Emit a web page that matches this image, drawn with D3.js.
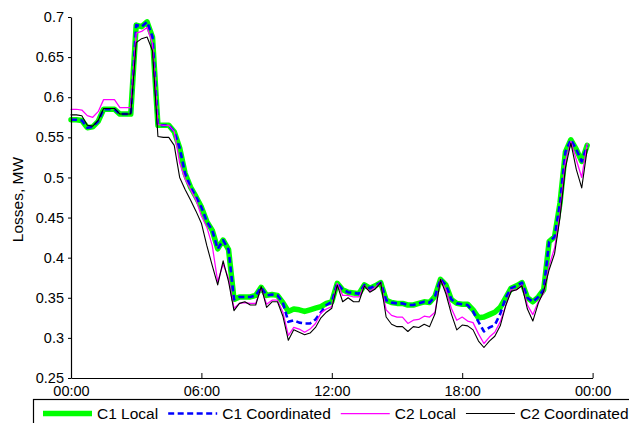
<!DOCTYPE html>
<html>
<head>
<meta charset="utf-8">
<script src="https://cdn.jsdelivr.net/npm/d3@7"></script>
<style>
  html, body { margin: 0; padding: 0; background: #fff; }
  svg { display: block; }
  text { font-family: "Liberation Sans", Arial, Helvetica, sans-serif; fill: #000; }
</style>
</head>
<body>
<svg id="chart" width="629" height="423"></svg>
<script>
// ---- data (15-minute samples, hours since midnight) ----
const stepHours = 0.25;
const seriesNames = ["C1 Local", "C1 Coordinated", "C2 Local", "C2 Coordinated"];

const c1Local = [
  0.572,0.572,0.571,0.562,0.563,0.570,0.585,0.585,0.585,0.579,0.579,0.579,
  0.690,0.688,0.694,0.675,0.565,0.565,0.565,0.557,0.537,0.505,0.488,0.476,
  0.463,0.445,0.434,0.411,0.422,0.410,0.348,0.351,0.351,0.351,0.353,0.363,
  0.353,0.354,0.353,0.344,0.333,0.336,0.335,0.333,0.335,0.337,0.339,0.343,
  0.345,0.368,0.360,0.357,0.356,0.355,0.366,0.362,0.365,0.369,0.347,0.344,
  0.343,0.343,0.341,0.341,0.343,0.345,0.344,0.352,0.373,0.366,0.348,0.343,
  0.342,0.342,0.335,0.325,0.326,0.329,0.332,0.338,0.350,0.362,0.365,0.369,
  0.350,0.345,0.351,0.360,0.420,0.426,0.468,0.532,0.547,0.535,0.520,0.540
];
const c1Coordinated = [
  0.572,0.572,0.571,0.562,0.563,0.570,0.585,0.585,0.585,0.579,0.579,0.579,
  0.690,0.688,0.694,0.675,0.565,0.565,0.565,0.557,0.537,0.505,0.488,0.476,
  0.463,0.445,0.434,0.411,0.422,0.410,0.348,0.351,0.351,0.351,0.353,0.363,
  0.353,0.354,0.353,0.344,0.320,0.322,0.319,0.318,0.318,0.323,0.332,0.341,
  0.345,0.368,0.360,0.357,0.356,0.355,0.366,0.362,0.365,0.369,0.347,0.344,
  0.343,0.343,0.341,0.341,0.343,0.345,0.344,0.352,0.373,0.366,0.348,0.343,
  0.342,0.341,0.333,0.320,0.308,0.313,0.316,0.330,0.350,0.362,0.365,0.369,
  0.350,0.345,0.351,0.360,0.420,0.426,0.468,0.532,0.547,0.535,0.520,0.540
];
const c2Local = [
  0.585,0.585,0.584,0.577,0.575,0.582,0.597,0.597,0.597,0.587,0.587,0.587,
  0.680,0.682,0.687,0.667,0.566,0.565,0.565,0.557,0.518,0.498,0.485,0.472,
  0.452,0.438,0.415,0.370,0.392,0.374,0.337,0.343,0.344,0.343,0.343,0.362,
  0.342,0.347,0.347,0.332,0.303,0.313,0.311,0.307,0.311,0.318,0.331,0.336,
  0.339,0.368,0.353,0.353,0.351,0.351,0.365,0.358,0.363,0.369,0.335,0.328,
  0.326,0.326,0.318,0.322,0.323,0.327,0.326,0.332,0.373,0.360,0.337,0.322,
  0.326,0.321,0.319,0.305,0.293,0.301,0.307,0.320,0.340,0.360,0.360,0.366,
  0.341,0.329,0.345,0.356,0.390,0.412,0.455,0.520,0.545,0.522,0.500,0.542
];
const c2Coordinated = [
  0.578,0.578,0.577,0.565,0.564,0.571,0.586,0.586,0.586,0.579,0.579,0.579,
  0.668,0.673,0.675,0.658,0.551,0.550,0.550,0.540,0.500,0.485,0.472,0.458,
  0.443,0.415,0.390,0.366,0.396,0.370,0.334,0.343,0.345,0.341,0.341,0.364,
  0.338,0.345,0.345,0.327,0.297,0.310,0.307,0.304,0.306,0.313,0.325,0.332,
  0.337,0.366,0.345,0.350,0.345,0.345,0.365,0.357,0.361,0.369,0.326,0.317,
  0.314,0.314,0.308,0.314,0.313,0.317,0.314,0.330,0.373,0.355,0.330,0.310,
  0.316,0.315,0.310,0.296,0.288,0.296,0.302,0.315,0.340,0.358,0.360,0.365,
  0.336,0.321,0.343,0.358,0.385,0.405,0.450,0.512,0.543,0.510,0.487,0.535
];

const xTickValues = [0, 6, 12, 18, 24];
const xTickLabels = ["00:00", "06:00", "12:00", "18:00", "00:00"];
const yTickValues = [0.25, 0.3, 0.35, 0.4, 0.45, 0.5, 0.55, 0.6, 0.65, 0.7];
const yTickLabels = ["0.25", "0.3", "0.35", "0.4", "0.45", "0.5", "0.55", "0.6", "0.65", "0.7"];
const yLabel = "Losses, MW";

// ---- layout ----
const svg = d3.select("#chart");
const plotLeft = 71, plotRight = 592.6, plotTop = 17, plotBottom = 378;

const x = d3.scaleLinear().domain([0, 24]).range([plotLeft, plotRight]);
const y = d3.scaleLinear().domain([0.25, 0.7]).range([plotBottom, plotTop]);

const styles = [
  { color: "#00ff00", width: 5.5, dash: null },
  { color: "#0000ff", width: 2.6, dash: "6,3.5" },
  { color: "#ff00ff", width: 1.25, dash: null },
  { color: "#000000", width: 1.1, dash: null }
];
const allSeries = [c1Local, c1Coordinated, c2Local, c2Coordinated];

const line = d3.line()
  .x((d, i) => x(i * stepHours))
  .y(d => y(d));

const gLines = svg.append("g");
allSeries.forEach((s, k) => {
  gLines.append("path")
    .attr("d", line(s))
    .attr("fill", "none")
    .attr("stroke", styles[k].color)
    .attr("stroke-width", styles[k].width)
    .attr("stroke-linejoin", "round")
    .attr("stroke-linecap", k === 1 ? "butt" : "round")
    .attr("stroke-dasharray", styles[k].dash);
});

// ---- axes ----
const yAxis = d3.axisLeft(y)
  .tickValues(yTickValues)
  .tickFormat((d, i) => yTickLabels[i])
  .tickSizeInner(3).tickSizeOuter(0).tickPadding(4);
const gy = svg.append("g").attr("transform", `translate(${plotLeft},0)`).call(yAxis);
gy.selectAll("text").style("font-size", "14.5px");

const xAxis = d3.axisBottom(x)
  .tickValues(xTickValues)
  .tickFormat((d, i) => xTickLabels[i])
  .tickSizeInner(-5).tickSizeOuter(0).tickPadding(7.5);
const gx = svg.append("g").attr("transform", `translate(0,${plotBottom})`).call(xAxis);
gx.selectAll("text").style("font-size", "14.5px");

[gx, gy].forEach(g => {
  g.selectAll("path.domain").attr("stroke", "#000").attr("stroke-width", 1.2);
  g.selectAll(".tick line").attr("stroke", "#000");
  g.attr("font-family", null);
});

svg.append("text")
  .attr("transform", `translate(23,${(plotTop + plotBottom) / 2 + 2}) rotate(-90)`)
  .attr("text-anchor", "middle")
  .style("font-size", "15.5px")
  .text(yLabel);

// ---- legend ----
const legY = 413.5;
svg.append("rect")
  .attr("x", 33.5).attr("y", 399.5)
  .attr("width", 620).attr("height", 40)
  .attr("fill", "#fff").attr("stroke", "#000").attr("stroke-width", 1.2);

let cx = 43;
seriesNames.forEach((name, k) => {
  svg.append("line")
    .attr("x1", cx).attr("x2", cx + 49)
    .attr("y1", legY).attr("y2", legY)
    .attr("stroke", styles[k].color)
    .attr("stroke-width", styles[k].width)
    .attr("stroke-dasharray", styles[k].dash);
  const t = svg.append("text")
    .attr("x", cx + 54).attr("y", legY)
    .attr("dy", "0.36em")
    .style("font-size", "15.5px")
    .text(name);
  cx = cx + 54 + t.node().getComputedTextLength() + 10;
});
</script>
</body>
</html>
